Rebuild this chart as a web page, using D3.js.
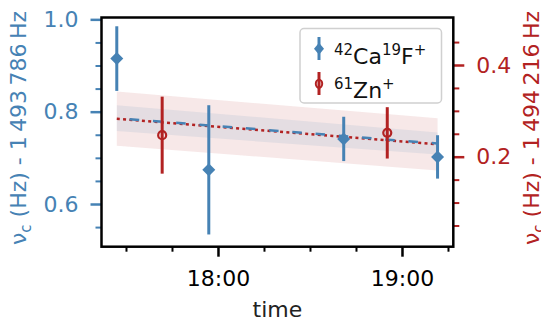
<!DOCTYPE html>
<html>
<head>
<meta charset="utf-8">
<script src="https://cdn.jsdelivr.net/npm/d3@7"></script>
<style>
  body { margin: 0; background: #fff; }
  svg { display: block; font-family: "DejaVu Sans", sans-serif; }
</style>
</head>
<body>
<div id="chart"></div>
<script>
// data
var cafTimes = ["17:27:00", "17:57:00", "18:41:00", "19:11:36"];
var cafValues = [0.915, 0.674, 0.741, 0.702];
var cafErrors = [0.070, 0.140, 0.048, 0.047];

var znTimes = ["17:41:48", "18:55:12"];
var znValues = [0.247, 0.252];
var znErrors = [0.084, 0.056];

// fit line + confidence band at the two ends
var fitTimes = ["17:27:00", "19:11:36"];
var cafFit = [0.786, 0.731];
var cafBand = [0.028, 0.024];
var znFit = [0.283, 0.227];
var znBand = [0.059, 0.057];

var xTickLabels = ["18:00", "19:00"];
var leftTicks = [0.6, 0.8, 1.0];
var rightTicks = [0.2, 0.4];

var blue = "#4682b4", red = "#b22222";
var width = 541, height = 322;
var box = {left: 101.5, right: 453.3, top: 17.5, bottom: 246.7};

var parseTime = d3.timeParse("%H:%M:%S");
var parseHM = d3.timeParse("%H:%M");

var svg = d3.select("#chart")
            .append("svg")
            .attr("width", width)
            .attr("height", height);

var xScale = d3.scaleTime()
               .domain([parseTime("17:22:01"), parseTime("19:16:44")])
               .range([box.left, box.right]);

var yLeft = d3.scaleLinear()
              .domain([0.5075, 1.004])
              .range([box.bottom, box.top]);

var yRight = d3.scaleLinear()
               .domain([0.0037, 0.5036])
               .range([box.bottom, box.top]);

// confidence bands
function bandPoints(fit, band) {
  return fitTimes.map(function(t, i) {
    return {t: parseTime(t), lo: fit[i] - band[i], hi: fit[i] + band[i], mid: fit[i]};
  });
}

var znArea = d3.area()
               .x(function(d) { return xScale(d.t); })
               .y0(function(d) { return yRight(d.lo); })
               .y1(function(d) { return yRight(d.hi); });

var cafArea = d3.area()
                .x(function(d) { return xScale(d.t); })
                .y0(function(d) { return yLeft(d.lo); })
                .y1(function(d) { return yLeft(d.hi); });

svg.append("path")
   .datum(bandPoints(znFit, znBand))
   .attr("d", znArea)
   .style("fill", red)
   .style("fill-opacity", 0.1);

svg.append("path")
   .datum(bandPoints(cafFit, cafBand))
   .attr("d", cafArea)
   .style("fill", blue)
   .style("fill-opacity", 0.1);

// fit lines (red dots underneath, blue dashes on top)
svg.append("path")
   .datum(bandPoints(znFit, znBand))
   .attr("d", d3.line().x(function(d) { return xScale(d.t); }).y(function(d) { return yRight(d.mid); }))
   .style("fill", "none")
   .style("stroke", red)
   .style("stroke-width", 2.5)
   .style("stroke-dasharray", "3,3.3");

svg.append("path")
   .datum(bandPoints(cafFit, cafBand))
   .attr("d", d3.line().x(function(d) { return xScale(d.t); }).y(function(d) { return yLeft(d.mid); }))
   .style("fill", "none")
   .style("stroke", blue)
   .style("stroke-width", 2.5)
   .style("stroke-dasharray", "9.5,13.8")
   .style("stroke-dashoffset", -13);

// error bars
var caf = cafTimes.map(function(t, i) { return {t: parseTime(t), v: cafValues[i], e: cafErrors[i]}; });
var zn = znTimes.map(function(t, i) { return {t: parseTime(t), v: znValues[i], e: znErrors[i]}; });

svg.selectAll(".caf-err")
   .data(caf)
   .enter()
   .append("line")
   .attr("class", "caf-err")
   .attr("x1", function(d) { return xScale(d.t); })
   .attr("x2", function(d) { return xScale(d.t); })
   .attr("y1", function(d) { return yLeft(d.v - d.e); })
   .attr("y2", function(d) { return yLeft(d.v + d.e); })
   .style("stroke", blue)
   .style("stroke-width", 3);

svg.selectAll(".caf-pt")
   .data(caf)
   .enter()
   .append("path")
   .attr("class", "caf-pt")
   .attr("d", "M0,-6.5L6.5,0L0,6.5L-6.5,0Z")
   .attr("transform", function(d) { return "translate(" + xScale(d.t) + "," + yLeft(d.v) + ")"; })
   .style("fill", blue);

svg.selectAll(".zn-err")
   .data(zn)
   .enter()
   .append("line")
   .attr("class", "zn-err")
   .attr("x1", function(d) { return xScale(d.t); })
   .attr("x2", function(d) { return xScale(d.t); })
   .attr("y1", function(d) { return yRight(d.v - d.e); })
   .attr("y2", function(d) { return yRight(d.v + d.e); })
   .style("stroke", red)
   .style("stroke-width", 3);

svg.selectAll(".zn-pt")
   .data(zn)
   .enter()
   .append("circle")
   .attr("class", "zn-pt")
   .attr("cx", function(d) { return xScale(d.t); })
   .attr("cy", function(d) { return yRight(d.v); })
   .attr("r", 4)
   .style("fill", "none")
   .style("stroke", red)
   .style("stroke-width", 2.2);

// axes
function styleAxis(g, color, width) {
  g.select(".domain").remove();
  g.selectAll("line").style("stroke", color).style("stroke-width", width);
  g.selectAll("text")
   .style("fill", color)
   .style("font-size", "22px")
   .style("font-family", "DejaVu Sans");
}

var minorLeft = d3.range(0.55, 1.0, 0.05).filter(function(v) { return Math.abs(v * 10 - Math.round(v * 10)) > 0.01 || Math.round(v * 10) % 2 == 1; });
var minorRight = d3.range(0.05, 0.5, 0.05).filter(function(v) { return Math.abs(v * 10 - Math.round(v * 10)) > 0.01 || Math.round(v * 10) % 2 == 1; });

svg.append("g")
   .attr("transform", "translate(" + box.left + ",0)")
   .call(d3.axisLeft(yLeft).tickValues(minorLeft).tickSize(6).tickFormat(""))
   .call(styleAxis, blue, 2);

svg.append("g")
   .attr("transform", "translate(" + box.left + ",0)")
   .call(d3.axisLeft(yLeft).tickValues(leftTicks).tickSize(11).tickPadding(12).tickFormat(d3.format(".1f")))
   .call(styleAxis, blue, 2.5);

svg.append("g")
   .attr("transform", "translate(" + box.right + ",0)")
   .call(d3.axisRight(yRight).tickValues(minorRight).tickSize(6).tickFormat(""))
   .call(styleAxis, red, 2);

svg.append("g")
   .attr("transform", "translate(" + box.right + ",0)")
   .call(d3.axisRight(yRight).tickValues(rightTicks).tickSize(11).tickPadding(12).tickFormat(d3.format(".1f")))
   .call(styleAxis, red, 2.5);

var majorX = xTickLabels.map(function(s) { return parseHM(s); });
var minorX = xScale.ticks(d3.timeMinute.every(15)).filter(function(d) { return d.getMinutes() != 0; });

svg.append("g")
   .attr("transform", "translate(0," + box.bottom + ")")
   .call(d3.axisBottom(xScale).tickValues(minorX).tickSize(5).tickFormat(""))
   .call(styleAxis, "#000", 2);

svg.append("g")
   .attr("transform", "translate(0," + box.bottom + ")")
   .call(d3.axisBottom(xScale).tickValues(majorX).tickSize(10).tickPadding(13.7).tickFormat(d3.timeFormat("%H:%M")))
   .call(styleAxis, "#000", 2.5);

// frame
svg.append("rect")
   .attr("x", box.left)
   .attr("y", box.top)
   .attr("width", box.right - box.left)
   .attr("height", box.bottom - box.top)
   .style("fill", "none")
   .style("stroke", "#000")
   .style("stroke-width", 2.5);

// axis labels
svg.append("text")
   .attr("x", (box.left + box.right) / 2)
   .attr("y", 317)
   .style("text-anchor", "middle")
   .style("font-size", "22px")
   .style("fill", "#222")
   .text("time");

function yLabel(x, color, base) {
  var t = svg.append("text")
             .attr("transform", "translate(" + x + ",128) rotate(-90)")
             .style("text-anchor", "middle")
             .style("font-size", "22px")
             .style("fill", color);
  t.append("tspan").text("\u03bd");
  t.append("tspan").attr("dy", 5).style("font-size", "15px").text("c");
  t.append("tspan").attr("dy", -5).text(" (Hz) - " + base + "\u2009Hz");
}
yLabel(26, blue, "1\u2009493\u2009786");
yLabel(539, red, "1\u2009494\u2009216");

// legend
var legend = svg.append("g");
legend.append("rect")
      .attr("x", 300)
      .attr("y", 28.5)
      .attr("width", 141.5)
      .attr("height", 74.5)
      .attr("rx", 4)
      .style("fill", "#fff")
      .style("fill-opacity", 0.8)
      .style("stroke", "#d0d0d0")
      .style("stroke-width", 1.5);

legend.append("line")
      .attr("x1", 319).attr("x2", 319)
      .attr("y1", 37).attr("y2", 60)
      .style("stroke", blue).style("stroke-width", 3);
legend.append("path")
      .attr("d", "M0,-6L5,0L0,6L-5,0Z")
      .attr("transform", "translate(319,48.7)")
      .style("fill", blue);

legend.append("line")
      .attr("x1", 319).attr("x2", 319)
      .attr("y1", 72).attr("y2", 95)
      .style("stroke", red).style("stroke-width", 3);
legend.append("ellipse")
      .attr("cx", 319).attr("cy", 83.7)
      .attr("rx", 3.2).attr("ry", 4)
      .style("fill", "none")
      .style("stroke", red).style("stroke-width", 2);

function supText(y, parts) {
  var t = legend.append("text")
                .attr("x", 334)
                .attr("y", y)
                .style("font-size", "22px")
                .style("fill", "#111");
  parts.forEach(function(p) {
    t.append("tspan")
     .attr("dy", p[1] ? -9 : 9)
     .style("font-size", p[1] ? "15px" : "22px")
     .text(p[0]);
  });
  t.select("tspan").attr("dy", -9);
}
supText(55.3 + 9, [["42", true], ["Ca", false], ["19", true], ["F", false], ["+", true]]);
supText(88.7 + 9, [["61", true], ["Zn", false], ["+", true]]);
</script>
</body>
</html>
